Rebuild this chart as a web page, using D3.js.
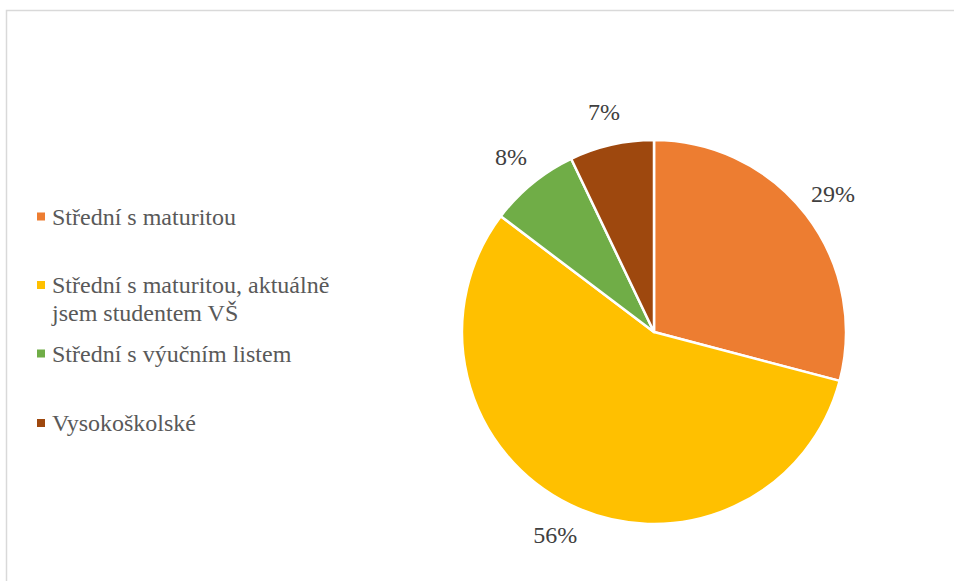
<!DOCTYPE html>
<html>
<head>
<meta charset="utf-8">
<script src="https://cdn.jsdelivr.net/npm/d3@7"></script>
<style>
  body { margin: 0; background: #fff; }
</style>
</head>
<body>
<svg id="chart" width="954" height="581"></svg>
<script>
// data
var categories = ["Střední s maturitou", "Střední s maturitou, aktuálně jsem studentem VŠ", "Střední s výučním listem", "Vysokoškolské"];
var values = [29.1, 56.2, 7.6, 7.1];
var labels = ["29%", "56%", "8%", "7%"];
var legendLines = [["Střední s maturitou"], ["Střední s maturitou, aktuálně", "jsem studentem VŠ"], ["Střední s výučním listem"], ["Vysokoškolské"]];
var colors = ["#ed7d31", "#ffc000", "#70ad47", "#9e480e"];

var font = "Liberation Serif";
var svg = d3.select("#chart");

// chart area border (clipped by window on right/bottom)
svg.append("rect")
    .attr("x", 6.5)
    .attr("y", 10.5)
    .attr("width", 960)
    .attr("height", 600)
    .attr("fill", "none")
    .style("stroke", "#d9d9d9")
    .style("stroke-width", 1.5);

var cx = 654, cy = 332, radius = 192, labelR = 226;

var pie = d3.pie().sort(null).value(function(d){ return d; });
var arc = d3.arc().innerRadius(0).outerRadius(radius);
var labelArc = d3.arc().innerRadius(labelR).outerRadius(labelR);

var g = svg.append("g").attr("transform", "translate(" + cx + "," + cy + ")");
var arcs = pie(values);

g.selectAll("path")
    .data(arcs)
    .enter().append("path")
    .attr("d", arc)
    .attr("fill", function(d, i){ return colors[i]; })
    .style("stroke", "#fff")
    .style("stroke-width", 2.5)
    .style("stroke-linejoin", "round");

g.selectAll("text.lbl")
    .data(arcs)
    .enter().append("text")
    .attr("class", "lbl")
    .attr("transform", function(d){ return "translate(" + labelArc.centroid(d) + ")"; })
    .attr("text-anchor", "middle")
    .attr("dy", "0.33em")
    .attr("fill", "#404040")
    .attr("font-family", font)
    .attr("font-size", 24)
    .text(function(d, i){ return labels[i]; });

// legend
var legendY = [216.5, 285, 353.5, 423];
var leg = svg.selectAll("g.legend")
    .data(categories)
    .enter().append("g")
    .attr("class", "legend")
    .attr("transform", function(d, i){ return "translate(37," + legendY[i] + ")"; });

leg.append("rect")
    .attr("x", 0)
    .attr("y", -4)
    .attr("width", 8)
    .attr("height", 8)
    .attr("fill", function(d, i){ return colors[i]; });

leg.each(function(d, i){
  var t = d3.select(this).append("text")
      .attr("x", 15)
      .attr("y", 8)
      .attr("fill", "#595959")
      .attr("font-family", font)
      .attr("font-size", 24);
  legendLines[i].forEach(function(line, j){
    t.append("tspan").attr("x", 15).attr("dy", j == 0 ? 0 : 28).text(line);
  });
});
</script>
</body>
</html>
